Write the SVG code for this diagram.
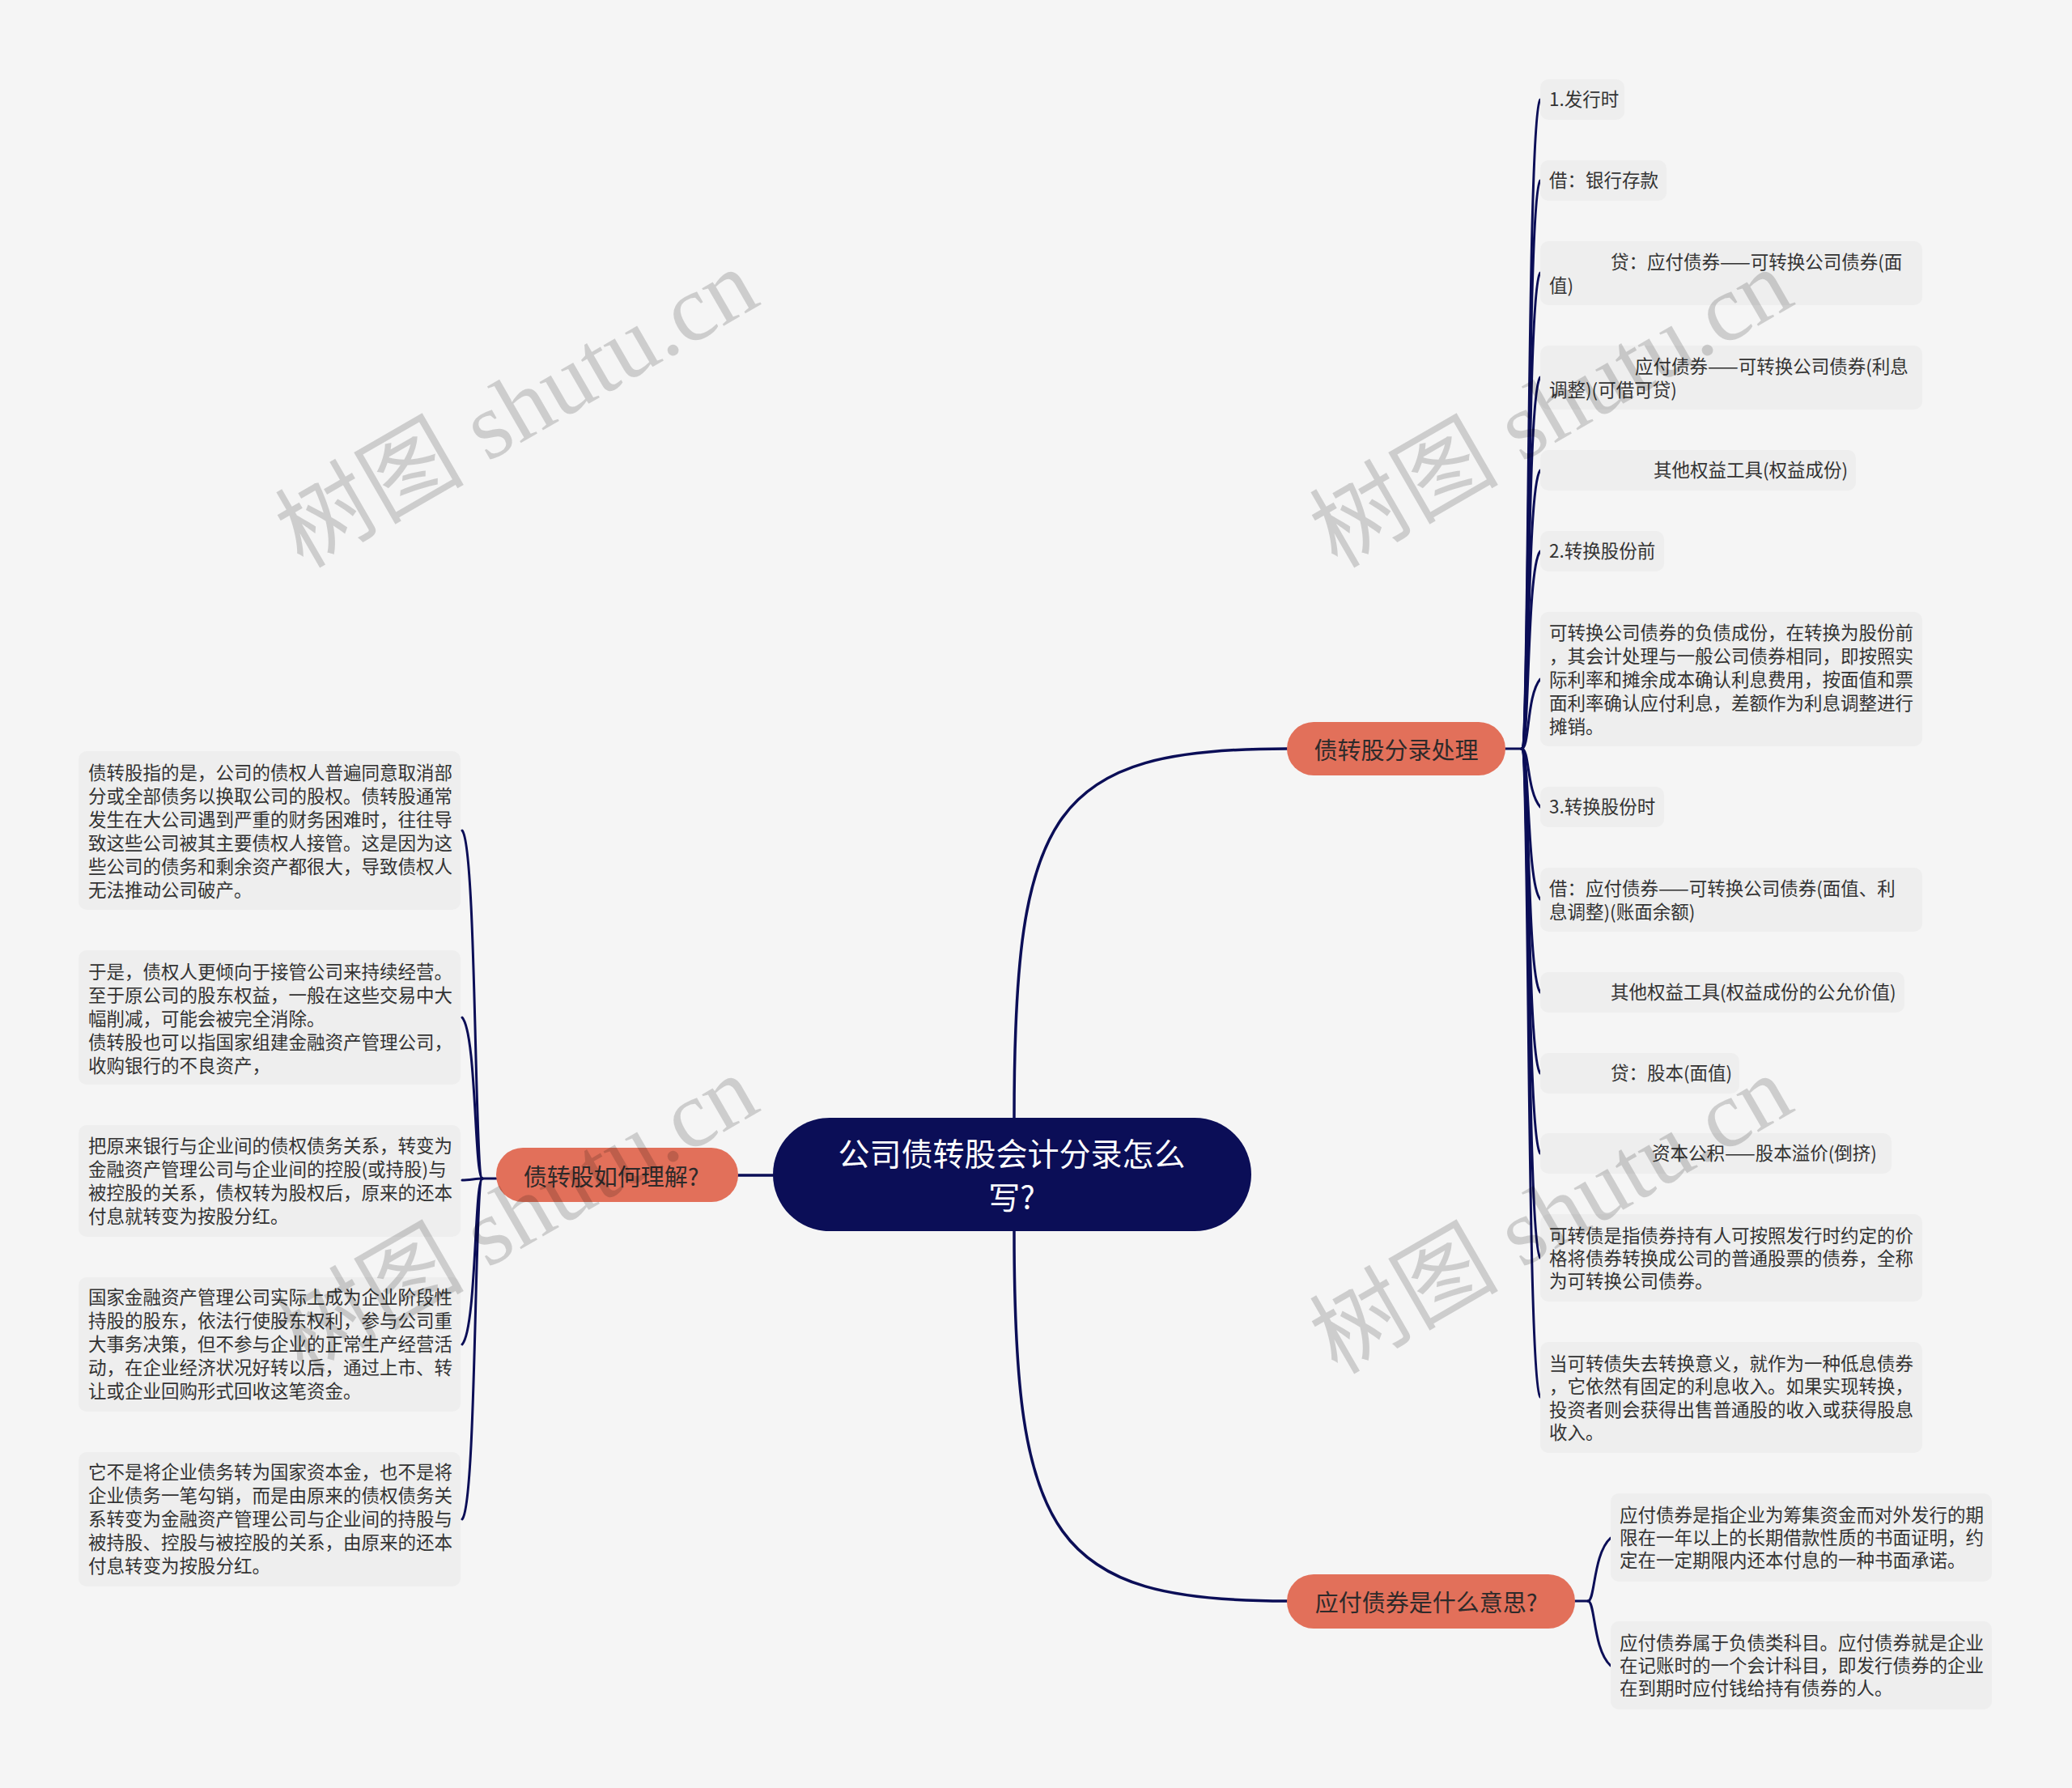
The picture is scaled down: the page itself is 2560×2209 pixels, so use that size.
<svg xmlns="http://www.w3.org/2000/svg" width="2560" height="2209" viewBox="0 0 2560 2209">
<style>
text{font-family:"Noto Sans CJK SC","Noto Sans",sans-serif;dominant-baseline:central}
.leaf rect{fill:#eeeeee}
.leaf text{font-size:22.5px;fill:#333333}
.branch rect{fill:#e2705a}
.branch text{font-size:29px;fill:#2e2a2a;text-anchor:middle}
.center rect{fill:#0b0e57}
.center text{font-size:39px;fill:#ffffff;text-anchor:middle}
.conn path{fill:none;stroke:#0b0e57;stroke-width:3;stroke-linecap:round}
.conn .main{stroke-width:3.5}
.wm{font-family:"Liberation Serif","Noto Sans CJK SC",serif;font-size:117px;fill:#000;fill-opacity:0.16;dominant-baseline:alphabetic}
</style>
<rect width="2560" height="2209" fill="#f5f5f5"/>

<g id="connectors" class="conn">
  <path class="main" d="M1253 1381 C1253 1000 1300 925 1590 925"/>
  <path class="main" d="M1253 1521 C1253 1900 1300 1978 1590 1978"/>
  <path class="main" d="M912 1452 L955 1452"/>
  <path d="M1860 925 L1880 925"/>
  <path d="M1946 1978 L1962 1978"/>
  <path d="M613 1456 L596 1456"/>
  <path d="M1880 925 C1890 925 1886 143 1903 123"/>
  <path d="M1880 925 C1890 925 1886 243 1903 223"/>
  <path d="M1880 925 C1890 925 1886 357 1903 337"/>
  <path d="M1880 925 C1890 925 1886 486 1903 466"/>
  <path d="M1880 925 C1890 925 1886 601 1903 581"/>
  <path d="M1880 925 C1890 925 1886 701 1903 681"/>
  <path d="M1880 925 C1890 925 1886 859 1903 839"/>
  <path d="M1880 925 C1890 925 1886 977 1903 997"/>
  <path d="M1880 925 C1890 925 1886 1091 1903 1111"/>
  <path d="M1880 925 C1890 925 1886 1206 1903 1226"/>
  <path d="M1880 925 C1890 925 1886 1306 1903 1326"/>
  <path d="M1880 925 C1890 925 1886 1405 1903 1425"/>
  <path d="M1880 925 C1890 925 1886 1534 1903 1554"/>
  <path d="M1880 925 C1890 925 1886 1706 1903 1726"/>
  <path d="M1962 1978 C1971 1978 1968 1920 1990 1900"/>
  <path d="M1962 1978 C1971 1978 1968 2038 1990 2058"/>
  <path d="M596 1456 C586 1456 589 1046 571 1026"/>
  <path d="M596 1456 C586 1456 589 1277 571 1257"/>
  <path d="M596 1456 C588 1456 580 1458 571 1458"/>
  <path d="M596 1456 C586 1456 589 1641 571 1661"/>
  <path d="M596 1456 C586 1456 589 1857 571 1877"/>
</g>

<g id="center" class="center">
  <rect x="955" y="1381" width="591" height="140" rx="70"/>
  <text x="1250" y="1423">公司债转股会计分录怎么</text>
  <text x="1250" y="1477">写?</text>
</g>

<g id="branch-left" class="branch">
  <rect x="613" y="1418" width="299" height="67" rx="33"/>
  <text x="755" y="1452">债转股如何理解?</text>
</g>
<g id="branch-entries" class="branch">
  <rect x="1590" y="892" width="270" height="66" rx="33"/>
  <text x="1725" y="925">债转股分录处理</text>
</g>
<g id="branch-bonds" class="branch">
  <rect x="1590" y="1945" width="356" height="67" rx="33"/>
  <text x="1762" y="1978">应付债券是什么意思?</text>
</g>

<g id="r1" class="leaf"><rect x="1903" y="98" width="104" height="50" rx="10"/><text x="1914" y="121">1.发行时</text></g>
<g id="r2" class="leaf"><rect x="1903" y="198" width="156" height="50" rx="10"/><text x="1914" y="221">借：银行存款</text></g>
<g id="r3" class="leaf"><rect x="1903" y="298" width="472" height="79" rx="10"/><text><tspan x="1990" y="322">贷：应付债券——可转换公司债券(面</tspan><tspan x="1914" y="351">值)</tspan></text></g>
<g id="r4" class="leaf"><rect x="1903" y="427" width="472" height="79" rx="10"/><text><tspan x="2020" y="451">应付债券——可转换公司债券(利息</tspan><tspan x="1914" y="480">调整)(可借可贷)</tspan></text></g>
<g id="r5" class="leaf"><rect x="1903" y="556" width="390" height="50" rx="10"/><text x="2043" y="579">其他权益工具(权益成份)</text></g>
<g id="r6" class="leaf"><rect x="1903" y="656" width="153" height="50" rx="10"/><text x="1914" y="679">2.转换股份前</text></g>
<g id="r7" class="leaf"><rect x="1903" y="756" width="472" height="166" rx="10"/><text><tspan x="1914" y="780">可转换公司债券的负债成份，在转换为股份前</tspan><tspan x="1914" y="809">，其会计处理与一般公司债券相同，即按照实</tspan><tspan x="1914" y="838">际利率和摊余成本确认利息费用，按面值和票</tspan><tspan x="1914" y="867">面利率确认应付利息，差额作为利息调整进行</tspan><tspan x="1914" y="896">摊销。</tspan></text></g>
<g id="r8" class="leaf"><rect x="1903" y="972" width="153" height="50" rx="10"/><text x="1914" y="995">3.转换股份时</text></g>
<g id="r9" class="leaf"><rect x="1903" y="1072" width="472" height="79" rx="10"/><text><tspan x="1914" y="1096">借：应付债券——可转换公司债券(面值、利</tspan><tspan x="1914" y="1125">息调整)(账面余额)</tspan></text></g>
<g id="r10" class="leaf"><rect x="1903" y="1201" width="450" height="50" rx="10"/><text x="1990" y="1224">其他权益工具(权益成份的公允价值)</text></g>
<g id="r11" class="leaf"><rect x="1903" y="1301" width="246" height="50" rx="10"/><text x="1990" y="1324">贷：股本(面值)</text></g>
<g id="r12" class="leaf"><rect x="1903" y="1400" width="434" height="50" rx="10"/><text x="2041" y="1423">资本公积——股本溢价(倒挤)</text></g>
<g id="r13" class="leaf"><rect x="1903" y="1500" width="472" height="108" rx="10"/><text><tspan x="1914" y="1525">可转债是指债券持有人可按照发行时约定的价</tspan><tspan x="1914" y="1553">格将债券转换成公司的普通股票的债券，全称</tspan><tspan x="1914" y="1581">为可转换公司债券。</tspan></text></g>
<g id="r14" class="leaf"><rect x="1903" y="1658" width="472" height="137" rx="10"/><text><tspan x="1914" y="1683">当可转债失去转换意义，就作为一种低息债券</tspan><tspan x="1914" y="1711">，它依然有固定的利息收入。如果实现转换，</tspan><tspan x="1914" y="1740">投资者则会获得出售普通股的收入或获得股息</tspan><tspan x="1914" y="1768">收入。</tspan></text></g>

<g id="b1" class="leaf"><rect x="1990" y="1845" width="471" height="109" rx="10"/><text><tspan x="2001" y="1870">应付债券是指企业为筹集资金而对外发行的期</tspan><tspan x="2001" y="1898">限在一年以上的长期借款性质的书面证明，约</tspan><tspan x="2001" y="1926">定在一定期限内还本付息的一种书面承诺。</tspan></text></g>
<g id="b2" class="leaf"><rect x="1990" y="2003" width="471" height="109" rx="10"/><text><tspan x="2001" y="2028">应付债券属于负债类科目。应付债券就是企业</tspan><tspan x="2001" y="2056">在记账时的一个会计科目，即发行债券的企业</tspan><tspan x="2001" y="2084">在到期时应付钱给持有债券的人。</tspan></text></g>

<g id="l1" class="leaf"><rect x="97" y="928" width="472" height="196" rx="10"/><text><tspan x="109" y="953">债转股指的是，公司的债权人普遍同意取消部</tspan><tspan x="109" y="982">分或全部债务以换取公司的股权。债转股通常</tspan><tspan x="109" y="1011">发生在大公司遇到严重的财务困难时，往往导</tspan><tspan x="109" y="1040">致这些公司被其主要债权人接管。这是因为这</tspan><tspan x="109" y="1069">些公司的债务和剩余资产都很大，导致债权人</tspan><tspan x="109" y="1098">无法推动公司破产。</tspan></text></g>
<g id="l2" class="leaf"><rect x="97" y="1174" width="472" height="166" rx="10"/><text><tspan x="109" y="1199">于是，债权人更倾向于接管公司来持续经营。</tspan><tspan x="109" y="1228">至于原公司的股东权益，一般在这些交易中大</tspan><tspan x="109" y="1257">幅削减，可能会被完全消除。</tspan><tspan x="109" y="1286">债转股也可以指国家组建金融资产管理公司，</tspan><tspan x="109" y="1315">收购银行的不良资产，</tspan></text></g>
<g id="l3" class="leaf"><rect x="97" y="1390" width="472" height="138" rx="10"/><text><tspan x="109" y="1414">把原来银行与企业间的债权债务关系，转变为</tspan><tspan x="109" y="1443">金融资产管理公司与企业间的控股(或持股)与</tspan><tspan x="109" y="1472">被控股的关系，债权转为股权后，原来的还本</tspan><tspan x="109" y="1501">付息就转变为按股分红。</tspan></text></g>
<g id="l4" class="leaf"><rect x="97" y="1578" width="472" height="166" rx="10"/><text><tspan x="109" y="1601">国家金融资产管理公司实际上成为企业阶段性</tspan><tspan x="109" y="1630">持股的股东，依法行使股东权利，参与公司重</tspan><tspan x="109" y="1659">大事务决策，但不参与企业的正常生产经营活</tspan><tspan x="109" y="1688">动，在企业经济状况好转以后，通过上市、转</tspan><tspan x="109" y="1717">让或企业回购形式回收这笔资金。</tspan></text></g>
<g id="l5" class="leaf"><rect x="97" y="1794" width="472" height="166" rx="10"/><text><tspan x="109" y="1817">它不是将企业债务转为国家资本金，也不是将</tspan><tspan x="109" y="1846">企业债务一笔勾销，而是由原来的债权债务关</tspan><tspan x="109" y="1875">系转变为金融资产管理公司与企业间的持股与</tspan><tspan x="109" y="1904">被持股、控股与被控股的关系，由原来的还本</tspan><tspan x="109" y="1933">付息转变为按股分红。</tspan></text></g>

<g id="watermarks">
  <text class="wm" x="374" y="703" transform="rotate(-30 374 703)">树图 shutu.cn</text>
  <text class="wm" x="1652" y="703" transform="rotate(-30 1652 703)">树图 shutu.cn</text>
  <text class="wm" x="374" y="1699" transform="rotate(-30 374 1699)">树图 shutu.cn</text>
  <text class="wm" x="1652" y="1699" transform="rotate(-30 1652 1699)">树图 shutu.cn</text>
</g>
</svg>
